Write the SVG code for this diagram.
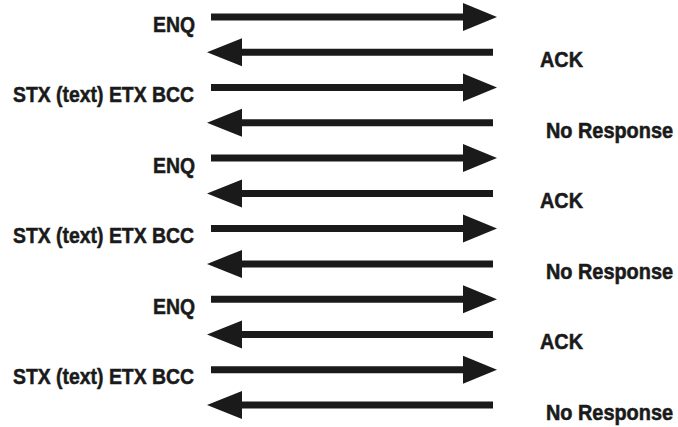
<svg xmlns="http://www.w3.org/2000/svg" width="678" height="427" viewBox="0 0 678 427">
<style>
text{font-family:"Liberation Sans Narrow","Liberation Sans",Arial,sans-serif;font-weight:bold;font-size:22px;fill:#1a1a1a;stroke:#1a1a1a;stroke-width:0.5}
text.nr{font-size:19.5px}
.ln{stroke:#1a1a1a;stroke-width:7;fill:none}
.hd{fill:#1a1a1a}
</style>
<defs>
<g id="ra"><line class="ln" x1="211" y1="0" x2="466" y2="0"/><polygon class="hd" points="463,-14 497,0 463,14"/></g>
<g id="la"><line class="ln" x1="493" y1="0" x2="238" y2="0"/><polygon class="hd" points="242,-14 207,0 242,14"/></g>
</defs>
<rect width="678" height="427" fill="#fff"/>
<g id="connectors">
<use href="#ra" y="17"/>
<use href="#la" y="52.3"/>
<use href="#ra" y="87.5"/>
<use href="#la" y="122.8"/>
<use href="#ra" y="158.1"/>
<use href="#la" y="193.4"/>
<use href="#ra" y="228.6"/>
<use href="#la" y="263.9"/>
<use href="#ra" y="299.2"/>
<use href="#la" y="334.4"/>
<use href="#ra" y="369.7"/>
<use href="#la" y="405"/>
</g>
<g id="enq1"><text x="153" y="32" textLength="42" lengthAdjust="spacingAndGlyphs">ENQ</text></g>
<g id="ack1"><text x="540" y="67" textLength="43" lengthAdjust="spacingAndGlyphs">ACK</text></g>
<g id="stx1"><text x="13" y="102" textLength="181" lengthAdjust="spacingAndGlyphs">STX (text) ETX BCC</text></g>
<g id="nr1" transform="translate(546,138) scale(1,1.12)"><text class="nr" x="0" y="0" textLength="127" lengthAdjust="spacingAndGlyphs">No Response</text></g>
<g id="enq2"><text x="153" y="173" textLength="42" lengthAdjust="spacingAndGlyphs">ENQ</text></g>
<g id="ack2"><text x="540" y="208" textLength="43" lengthAdjust="spacingAndGlyphs">ACK</text></g>
<g id="stx2"><text x="13" y="243" textLength="181" lengthAdjust="spacingAndGlyphs">STX (text) ETX BCC</text></g>
<g id="nr2" transform="translate(546,279) scale(1,1.12)"><text class="nr" x="0" y="0" textLength="127" lengthAdjust="spacingAndGlyphs">No Response</text></g>
<g id="enq3"><text x="153" y="314" textLength="42" lengthAdjust="spacingAndGlyphs">ENQ</text></g>
<g id="ack3"><text x="540" y="349" textLength="43" lengthAdjust="spacingAndGlyphs">ACK</text></g>
<g id="stx3"><text x="13" y="384" textLength="181" lengthAdjust="spacingAndGlyphs">STX (text) ETX BCC</text></g>
<g id="nr3" transform="translate(546,420) scale(1,1.12)"><text class="nr" x="0" y="0" textLength="127" lengthAdjust="spacingAndGlyphs">No Response</text></g>
</svg>
